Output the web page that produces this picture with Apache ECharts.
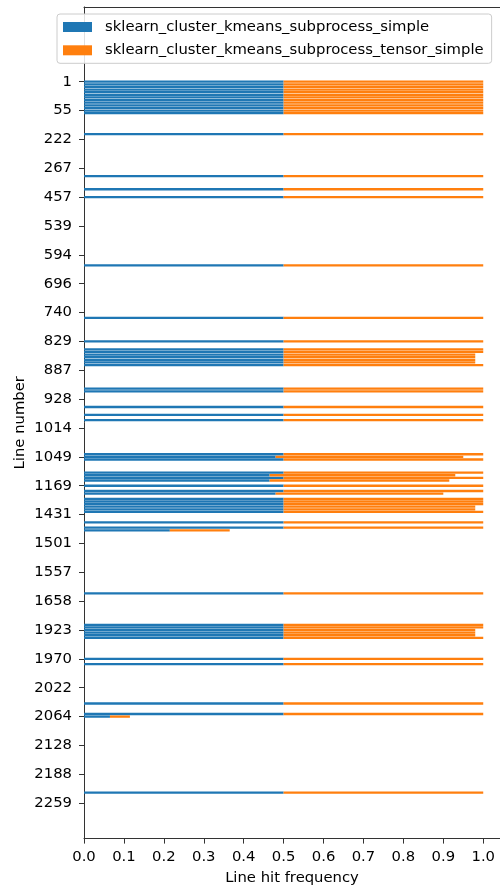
<!DOCTYPE html>
<html>
<head>
<meta charset="utf-8">
<script src="https://cdn.jsdelivr.net/npm/echarts@6/dist/echarts.min.js"></script>
<style>
  html, body { margin: 0; padding: 0; background: #ffffff; }
  #chart { width: 500px; height: 888px; }
</style>
</head>
<body>
<div id="chart"></div>
<script>
// Source line numbers printed on the y axis, one every `rowsPerTick` rows
const tickLabels = ['1', '55', '222', '267', '457', '539', '594', '696', '740', '829',
  '887', '928', '1014', '1049', '1169', '1431', '1501', '1557', '1658', '1923',
  '1970', '2022', '2064', '2128', '2188', '2259'];
const rowsPerTick = 11;

// Axis rows (blank rows above the first line and below the last one)
const firstRow = -28;
const lastRow = 288;

// Rows that were hit, with the hit share of each run
const hitRows = [0, 1, 2, 3, 4, 5, 6, 7, 8, 9, 10, 11, 12,
  20, 36, 41, 44, 70, 90, 99,
  102, 103, 104, 105, 106, 107, 108,
  117, 118, 124, 127, 129,
  142, 143, 144, 149, 150, 151, 152, 154, 156, 157,
  159, 160, 161, 162, 163, 164,
  168, 170, 171, 195,
  207, 208, 209, 210, 211, 212,
  220, 222, 237, 241, 242, 271];

const simpleShare = [0.5, 0.5, 0.5, 0.5, 0.5, 0.5, 0.5, 0.5, 0.5, 0.5, 0.5, 0.5, 0.5,
  0.5, 0.5, 0.5, 0.5, 0.5, 0.5, 0.5,
  0.5, 0.5, 0.5, 0.5, 0.5, 0.5, 0.5,
  0.5, 0.5, 0.5, 0.5, 0.5,
  0.5, 0.48, 0.5, 0.5, 0.465, 0.5, 0.465, 0.5, 0.5, 0.48,
  0.5, 0.5, 0.5, 0.5, 0.5, 0.5,
  0.5, 0.5, 0.215, 0.5,
  0.5, 0.5, 0.5, 0.5, 0.5, 0.5,
  0.5, 0.5, 0.5, 0.5, 0.065, 0.5];

const tensorShare = [0.5, 0.5, 0.5, 0.5, 0.5, 0.5, 0.5, 0.5, 0.5, 0.5, 0.5, 0.5, 0.5,
  0.5, 0.5, 0.5, 0.5, 0.5, 0.5, 0.5,
  0.5, 0.5, 0.48, 0.48, 0.48, 0.48, 0.5,
  0.5, 0.5, 0.5, 0.5, 0.5,
  0.5, 0.47, 0.5, 0.5, 0.465, 0.5, 0.45, 0.5, 0.5, 0.42,
  0.5, 0.5, 0.5, 0.48, 0.48, 0.5,
  0.5, 0.5, 0.15, 0.5,
  0.5, 0.5, 0.48, 0.48, 0.48, 0.5,
  0.5, 0.5, 0.5, 0.5, 0.05, 0.5];

const xTicks = [0, 0.1, 0.2, 0.3, 0.4, 0.5, 0.6, 0.7, 0.8, 0.9, 1.0];

const seriesNames = ['sklearn_cluster_kmeans_subprocess_simple',
  'sklearn_cluster_kmeans_subprocess_tensor_simple'];

// Build the full row list and per-row values
const rows = [];
for (let r = firstRow; r <= lastRow; r++) rows.push(String(r));
const simpleData = rows.map(() => '-');
const tensorData = rows.map(() => '-');
hitRows.forEach((r, i) => {
  simpleData[r - firstRow] = simpleShare[i];
  tensorData[r - firstRow] = tensorShare[i];
});

function isTickRow(v) {
  const r = Number(v);
  return r >= 0 && r % rowsPerTick === 0 && r / rowsPerTick < tickLabels.length;
}

const font = 'DejaVu Sans';
const fontSize = 14.8;
const axisColor = '#333333';

const chart = echarts.init(document.getElementById('chart'), null, { renderer: 'canvas' });
chart.setOption({
  animation: false,
  backgroundColor: '#ffffff',
  textStyle: { fontFamily: font },
  grid: { left: 84, right: 0, top: 6.93, bottom: 49.4, outerBoundsMode: 'none' },
  legend: {
    orient: 'vertical',
    left: 57,
    top: 14,
    padding: [4.5, 8, 4.5, 6],
    itemWidth: 29,
    itemHeight: 10,
    itemGap: 6.3,
    icon: 'rect',
    backgroundColor: 'rgba(255,255,255,0.85)',
    borderColor: '#cccccc',
    borderWidth: 1,
    borderRadius: 3,
    textStyle: { fontFamily: font, fontSize: fontSize, color: '#000', lineHeight: 17, padding: [0, 0, 0, 8] },
    data: seriesNames
  },
  xAxis: [{
    type: 'value',
    min: 0,
    max: 1.042,
    splitLine: { show: false },
    axisLine: { show: true, lineStyle: { color: axisColor, width: 1 } },
    axisTick: { show: true, length: 5, customValues: xTicks, lineStyle: { color: axisColor } },
    axisLabel: {
      customValues: xTicks,
      margin: 11,
      fontFamily: font, fontSize: fontSize, color: '#000',
      formatter: v => Number(v).toFixed(1)
    },
    name: 'Line hit frequency',
    nameLocation: 'middle',
    nameGap: 32,
    nameMoveOverlap: false,
    nameTextStyle: { fontFamily: font, fontSize: fontSize, color: '#000' }
  }, {
    type: 'value',
    position: 'top',
    min: 0,
    max: 1.042,
    splitLine: { show: false },
    axisLine: { show: true, lineStyle: { color: axisColor, width: 1 } },
    axisTick: { show: false },
    axisLabel: { show: false }
  }],
  yAxis: {
    type: 'category',
    inverse: true,
    data: rows,
    axisLine: { show: true, lineStyle: { color: axisColor, width: 1 } },
    axisTick: {
      show: true, length: 5, alignWithLabel: true,
      interval: (i, v) => isTickRow(v),
      lineStyle: { color: axisColor }
    },
    axisLabel: {
      interval: (i, v) => isTickRow(v),
      margin: 12,
      fontFamily: font, fontSize: fontSize, color: '#000',
      formatter: v => isTickRow(v) ? tickLabels[Number(v) / rowsPerTick] : ''
    },
    splitLine: { show: false },
    name: 'Line number',
    nameLocation: 'middle',
    nameGap: 56,
    nameMoveOverlap: false,
    nameTextStyle: { fontFamily: font, fontSize: fontSize, color: '#000' }
  },
  series: [{
    name: seriesNames[0],
    type: 'bar',
    stack: 'hits',
    barWidth: '88%',
    itemStyle: { color: '#1f77b4' },
    data: simpleData
  }, {
    name: seriesNames[1],
    type: 'bar',
    stack: 'hits',
    barWidth: '88%',
    itemStyle: { color: '#ff7f0e' },
    data: tensorData
  }]
});
</script>
</body>
</html>
